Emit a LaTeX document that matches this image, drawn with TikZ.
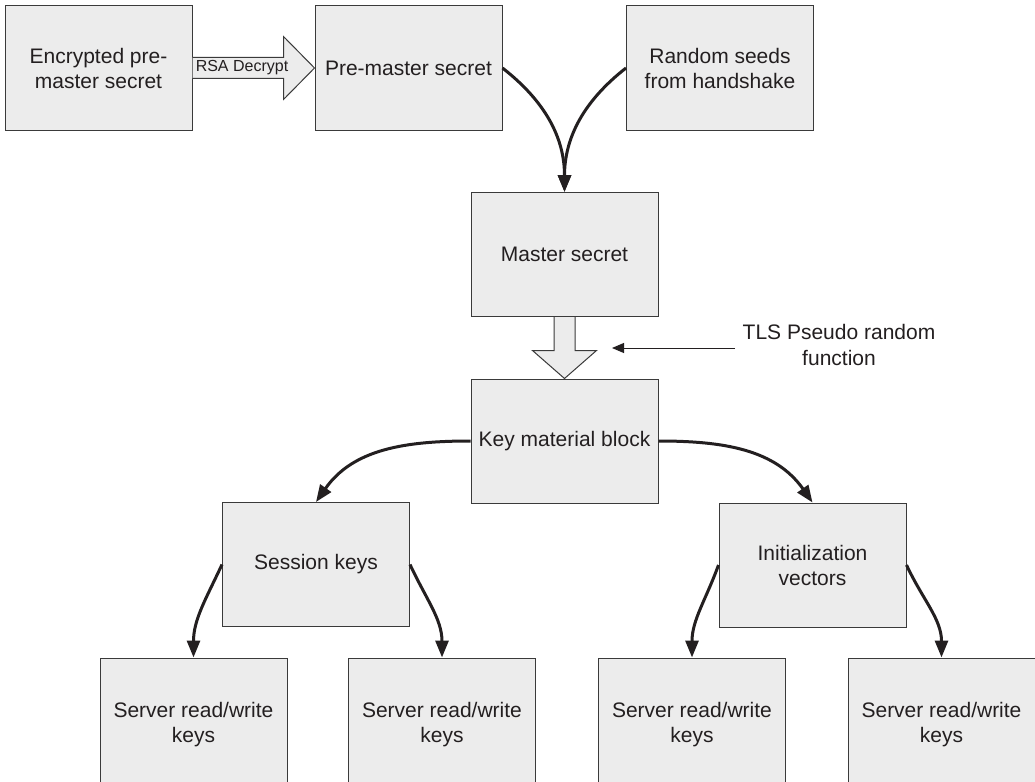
\documentclass[tikz,border=0pt]{standalone}
\usepackage{fontspec}
\setmainfont{Liberation Sans}
\usetikzlibrary{arrows.meta,calc}
\definecolor{boxfill}{HTML}{ECECEC}
\definecolor{boxline}{HTML}{3A3A3A}
\definecolor{txt}{HTML}{231F20}
\tikzset{
  box/.style={draw=boxline, line width=1pt, fill=boxfill, minimum width=187pt, minimum height=124pt,
    align=center, inner sep=1pt, text=txt, font=\fontsize{21}{25}\selectfont},
  tallbox/.style={box, minimum height=134pt},
  flow/.style={line width=3pt, draw=txt, -{Triangle[length=17pt,width=13pt]}},
  hollow/.style={draw=boxline, line width=1pt, fill=boxfill, line join=miter},
  thinarrow/.style={line width=1pt, draw=txt, -{Triangle[length=12pt,width=10pt]}},
  lbl/.style={text=txt, align=center, font=\fontsize{21}{26}\selectfont}
}
\begin{document}
\begin{tikzpicture}[x=1pt,y=1pt]
\useasboundingbox[fill=white] (0,0) rectangle (1035,-781);

\node[box] (enc) at (98.5,-68) {Encrypted pre-\\master secret};
\node[box] (pm) at (408.5,-68) {Pre-master secret};
\node[box] (rs) at (720,-68) {Random seeds\\from handshake};
\node[box] (ms) at (564.5,-254.5) {Master secret};
\node[box] (kmb) at (564.5,-441) {Key material block};
\node[box] (sk) at (316,-564.5) {Session keys};
\node[box] (iv) at (812.5,-565) {Initialization\\vectors};
\node[tallbox] (b1) at (193.5,-725) {Server read/write\\keys};
\node[tallbox] (b2) at (442,-725) {Server read/write\\keys};
\node[tallbox] (b3) at (692,-725) {Server read/write\\keys};
\node[tallbox] (b4) at (941.5,-725) {Server read/write\\keys};

% RSA decrypt hollow arrow
\draw[hollow] ($(enc.east)+(0,10.5)$) -- ($(pm.west)+(-31,10.5)$) -- ($(pm.west)+(-31,31.5)$)
  -- (pm.west) -- ($(pm.west)+(-31,-31.5)$) -- ($(pm.west)+(-31,-10.5)$) -- ($(enc.east)+(0,-10.5)$);
\node[text=txt, font=\fontsize{16}{18}\selectfont, inner sep=0pt] (rsa) at (242,-68) {RSA Decrypt};

% hollow arrow master -> key material
\draw[hollow] ($(ms.south)+(-10.5,0)$) -- ($(kmb.north)+(-10.5,28)$) -- ($(kmb.north)+(-32,28)$)
  -- (kmb.north) -- ($(kmb.north)+(32,28)$) -- ($(kmb.north)+(10.5,28)$) -- ($(ms.south)+(10.5,0)$);

% TLS label and thin arrow
\node[lbl] (tls) at (839,-345) {TLS Pseudo random\\function};
\coordinate (tlsend) at (612,-348);
\draw[thinarrow] (735,-348) -- (tlsend);

% curved flows
\draw[flow] (pm.east) to[out=-38,in=90] (ms.north);
\draw[flow] (rs.west) to[out=-142,in=90] (ms.north);
\draw[flow] (kmb.west) to[out=180,in=55] (sk.north);
\draw[flow] (kmb.east) to[out=0,in=125] (iv.north);
\draw[flow] (sk.west) to[out=-115,in=90] (b1.north);
\draw[flow] (sk.east) to[out=-65,in=90] (b2.north);
\draw[flow] (iv.west) to[out=-110,in=90] (b3.north);
\draw[flow] (iv.east) to[out=-65,in=90] (b4.north);
\end{tikzpicture}
\end{document}
